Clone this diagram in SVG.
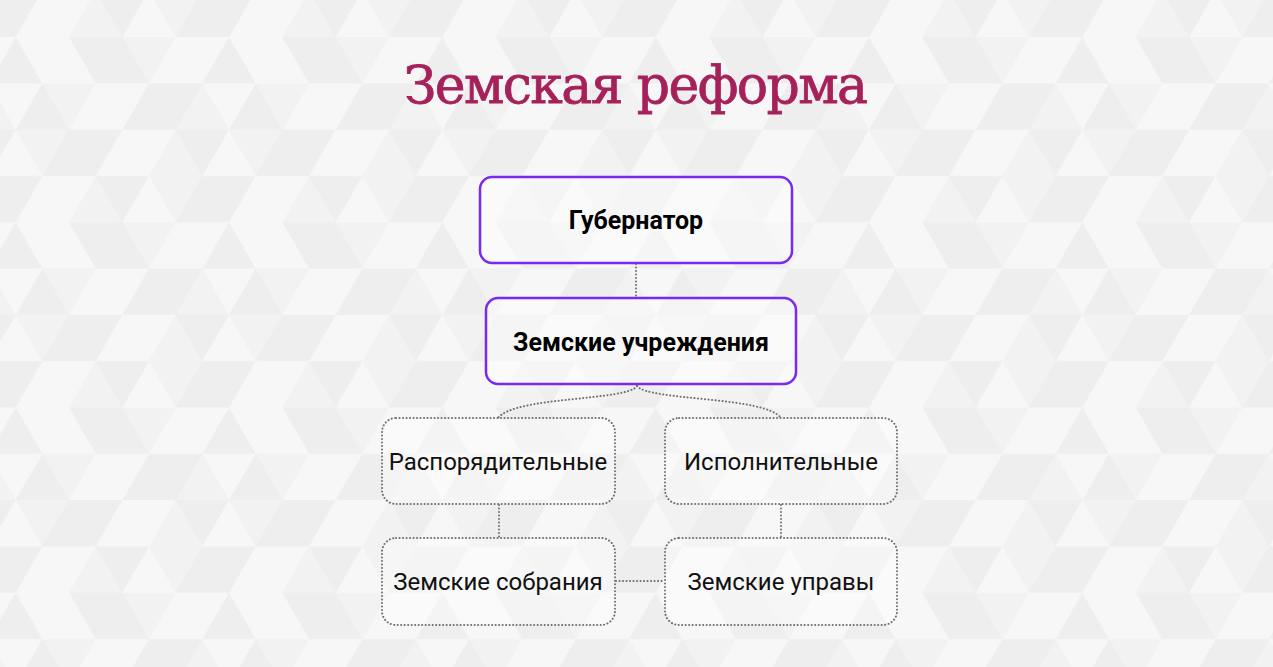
<svg xmlns="http://www.w3.org/2000/svg" width="1273" height="667" viewBox="0 0 1273 667">
<style>
.title{font-family:"DejaVu Serif","Liberation Serif",serif;font-size:52px;fill:#a6215a;stroke:#a6215a;stroke-width:0.8;text-anchor:middle}
.main rect{fill:#ffffff;fill-opacity:0.4;stroke:#7a2af0;stroke-width:2.5}
.main text{font-family:Roboto,"Liberation Sans",sans-serif;font-weight:bold;font-size:25px;fill:#000;text-anchor:middle;dominant-baseline:central}
.sub rect{fill:#ffffff;fill-opacity:0.35;stroke:#6e6e6e;stroke-width:2;stroke-dasharray:0.1 3.4;stroke-linecap:round}
.sub text{font-family:Roboto,"Liberation Sans",sans-serif;font-size:24px;fill:#111;text-anchor:middle;dominant-baseline:central}
.conn path{fill:none;stroke:#6e6e6e;stroke-width:2;stroke-dasharray:0.1 3.4;stroke-linecap:round}
</style>
<defs>
<pattern id="bg" patternUnits="userSpaceOnUse" x="15.7" y="37.1" width="213.33" height="185.2">
<rect width="213.33" height="185.2" fill="#f2f2f2"/>
<g transform="scale(26.667 46.3)">
<path fill="#eeeeee" d="M2 0L4 0L3 1Z M3 1L4 0L5 1Z M7 1L8 0L9 1Z M-1 1L0 0L1 1Z M0 2L1 1L2 2Z M4 2L5 1L6 2Z M5 1L7 1L6 2Z M1 3L2 2L3 3Z M2 2L4 2L3 3Z M6 2L8 2L7 3Z M3 3L5 3L4 4Z M6 4L7 3L8 4Z M7 3L9 3L8 4Z M-1 3L1 3L0 4Z"/>
<path fill="#f7f7f7" d="M0 0L2 0L1 1Z M1 1L2 0L3 1Z M5 1L6 0L7 1Z M6 0L8 0L7 1Z M2 2L3 1L4 2Z M3 1L5 1L4 2Z M7 1L9 1L8 2Z M-1 1L1 1L0 2Z M3 3L4 2L5 3Z M4 2L6 2L5 3Z M7 3L8 2L9 3Z M-1 3L0 2L1 3Z M0 4L1 3L2 4Z M1 3L3 3L2 4Z M4 4L5 3L6 4Z"/>
</g>
</pattern>
</defs>
<rect width="1273" height="667" fill="url(#bg)"/>
<text class="title" x="636" y="103" textLength="464" lengthAdjust="spacing">Земская реформа</text>
<g class="conn" id="connectors">
<path d="M636 264 V297"/>
<path d="M637 386 C628 401 515 396 498 418"/>
<path d="M637 386 C648 401 765 396 781 418"/>
<path d="M499 505 V537"/>
<path d="M781 505 V537"/>
<path d="M616 581 H664"/>
</g>
<g class="main" id="node-governor">
<rect x="480" y="177" width="312" height="86" rx="12"/>
<text x="636" y="220">Губернатор</text>
</g>
<g class="main" id="node-institutions">
<rect x="486" y="298" width="310" height="86" rx="12"/>
<text x="641" y="342">Земские учреждения</text>
</g>
<g class="sub" id="node-admin">
<rect x="382" y="418" width="233" height="86" rx="14"/>
<text x="498" y="462">Распорядительные</text>
</g>
<g class="sub" id="node-exec">
<rect x="665" y="418" width="232" height="86" rx="14"/>
<text x="781" y="462">Исполнительные</text>
</g>
<g class="sub" id="node-assemblies">
<rect x="382" y="538" width="233" height="87" rx="14"/>
<text x="498" y="582">Земские собрания</text>
</g>
<g class="sub" id="node-councils">
<rect x="665" y="538" width="232" height="87" rx="14"/>
<text x="781" y="582">Земские управы</text>
</g>
</svg>
